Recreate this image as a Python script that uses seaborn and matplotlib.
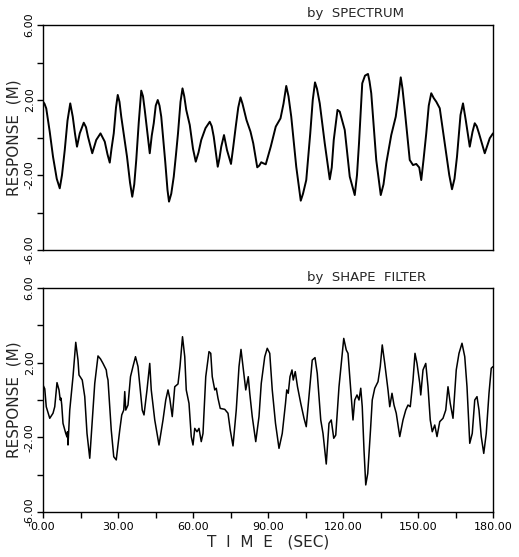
import matplotlib
matplotlib.use("Agg")
import matplotlib.pyplot as plt
import seaborn as sns
import pandas as pd

# ---- data ----
spec_time = [0, 0.6, 1.3, 2.7, 4, 5.5, 6.7, 7.6, 8.7, 9.8, 10.9, 11.9, 12.8, 13.6, 14.7, 16.3, 17.2, 18, 19.7,
             21.3, 23, 24.7, 25.8, 26.7, 27.4, 28.3, 29.2, 29.9, 30.6, 31.3, 32.5, 33.6, 34.8, 35.7, 36.5, 37.3,
             38.3, 39.3, 40, 40.7, 41.8, 42.7, 43.5, 44.3, 45.1, 45.9, 46.6, 47.3, 48.9, 49.8, 50.4, 51.3, 52.3,
             53.2, 54, 55, 55.8, 56.5, 57.3, 58.7, 60, 61.1, 62.2, 63.3, 65, 66.7, 67.5, 68.3, 69.9, 70.6, 71.3,
             72.4, 73.6, 75.2, 76.1, 77.1, 78.1, 79, 79.8, 81.4, 83, 84.1, 85.7, 86.5, 87.3, 88.2, 89.1, 91.1,
             93.1, 95, 96.2, 97.3, 98.2, 99.3, 101.3, 103.1, 104, 105.3, 106.9, 107.9, 108.8, 109.6, 110.7,
             112.7, 114.7, 115.5, 116.3, 117.8, 118.7, 120.7, 122.7, 124.7, 125.6, 126.4, 127.7, 128.8, 130,
             130.6, 131.3, 133.3, 135.1, 136.2, 137.3, 139.3, 141.1, 142.2, 143.1, 143.8, 144.7, 146.7, 148,
             149.3, 150.5, 151.3, 152.2, 153.3, 154.3, 155.3, 156.3, 157.3, 158.7, 161.1, 162.5, 163.6, 164.6,
             165.6, 167, 168, 169.1, 170.7, 171.8, 172.7, 173.5, 174.4, 176.7, 178.7, 180]
spec_resp = [1.91, 1.8, 1.55, 0.3, -1.02, -2.2, -2.71, -2.0, -0.67, 0.9, 1.82, 1.11, 0.2, -0.49, 0.22, 0.79, 0.55,
             0.04, -0.84, -0.13, 0.22, -0.22, -0.9, -1.34, -0.6, 0.22, 1.6, 2.27, 1.9, 1.11, 0.0, -1.02, -2.4,
             -3.16, -2.5, -1.2, 0.8, 2.5, 2.2, 1.47, 0.2, -0.84, 0.1, 0.76, 1.7, 2.0, 1.7, 1.11, -1.3, -2.8, -3.42,
             -3.0, -2.09, -0.9, 0.22, 1.9, 2.62, 2.2, 1.47, 0.67, -0.6, -1.29, -0.8, -0.13, 0.5, 0.84, 0.6, 0.04,
             -1.56, -1.1, -0.49, 0.13, -0.67, -1.41, -0.5, 0.58, 1.6, 2.14, 1.8, 0.93, 0.31, -0.31, -1.59, -1.5,
             -1.32, -1.38, -1.43, -0.49, 0.58, 1.02, 1.8, 2.75, 2.2, 1.11, -1.56, -3.37, -3.0, -2.27, 0.22, 2.0,
             2.94, 2.6, 1.82, -0.31, -2.23, -1.6, -0.13, 1.47, 1.38, 0.4, -2.09, -3.07, -2.0, -0.31, 2.89, 3.3,
             3.39, 3.0, 2.36, -1.2, -3.07, -2.5, -1.38, 0.13, 1.11, 2.2, 3.21, 2.6, 1.47, -1.2, -1.47, -1.41,
             -1.6, -2.27, -1.2, 0.22, 1.7, 2.36, 2.1, 1.91, 1.56, -0.67, -2.0, -2.76, -2.2, -1.02, 1.2, 1.82,
             0.93, -0.49, 0.3, 0.76, 0.6, 0.22, -0.84, -0.04, 0.22]

filt_time = [0, 0.7, 1.3, 2.7, 4, 4.7, 5.6, 6.4, 6.9, 7.2, 7.5, 8, 9.1, 9.6, 9.8, 10, 10.7, 12, 13.1, 14, 14.4,
             15.7, 16.7, 17.6, 18.7, 19.7, 20.7, 22, 23, 24, 24.6, 25.3, 25.6, 26, 27.3, 28.3, 29.3, 30.7, 31.5,
             32.3, 32.7, 33.1, 34, 35, 36, 37, 38, 39.7, 40.4, 41.6, 42.7, 43.3, 44.7, 46.4, 48, 49.1, 50, 50.7,
             51.7, 52.7, 54, 54.8, 55.8, 56.7, 57.3, 58.4, 59.3, 60, 60.7, 61.6, 62.4, 63.3, 64, 65.1, 66.4,
             67.1, 67.7, 68.7, 69.3, 70, 70.9, 72.7, 74, 74.9, 76, 77.3, 78.4, 79.2, 80, 81.1, 82.1, 82.7, 83.7,
             85.1, 86.4, 87.3, 88.7, 89.7, 90.7, 91.7, 93, 94.4, 95.7, 97, 97.5, 98.1, 98.8, 99.6, 100.1, 100.9,
             101.8, 103.1, 104.4, 105.3, 106.4, 107.7, 108.8, 109.7, 111.1, 112, 113.3, 114.4, 115.3, 116.3,
             117.1, 118.4, 119.7, 120.3, 121.3, 122, 123, 124, 124.7, 125.6, 126.4, 127.1, 127.7, 128.4, 129.1,
             129.9, 131, 131.7, 132.7, 134, 134.9, 135.7, 136.7, 138, 138.7, 139.6, 140.4, 141.3, 142.7, 144,
             145.1, 146, 146.9, 148, 148.8, 149.6, 150.7, 151.1, 152, 153.1, 154, 154.9, 155.7, 156.7, 157.6,
             158.7, 160, 161.1, 162, 162.9, 164, 165.3, 166.4, 167.6, 168.7, 169.6, 170.7, 171.7, 172.7, 173.6,
             174.4, 175.3, 176.3, 177.3, 178.4, 179.3, 180]
filt_resp = [0.8, 0.6, -0.36, -0.98, -0.71, -0.36, 0.93, 0.54, 0, 0.1, -0.27, -1.25, -1.79, -1.98, -1.7, -2.41,
             -0.54, 1.25, 3.09, 2.14, 1.34, 1.07, 0.18, -1.79, -3.12, -1.07, 0.89, 2.36, 2.2, 1.96, 1.8, 1.61,
             1.3, 1.07, -1.61, -3.04, -3.21, -1.61, -0.8, -0.54, 0.45, -0.54, -0.27, 1.25, 1.8, 2.32, 1.79, -0.54,
             -0.8, 0.54, 1.96, 0.54, -1.07, -2.41, -1.07, 0, 0.54, 0.09, -0.89, 0.71, 0.86, 1.8, 3.39, 2.32,
             0.54, -0.18, -1.96, -2.41, -1.52, -1.7, -1.52, -2.23, -1.79, 1.25, 2.59, 2.5, 1.25, 0.54, 0.63,
             0.09, -0.45, -0.5, -0.71, -1.61, -2.46, -0.54, 1.79, 2.71, 1.79, 0.54, 1.25, 0.36, -0.89, -2.23,
             -0.89, 0.89, 2.32, 2.77, 2.5, 0.54, -1.25, -2.59, -1.79, -0.18, 0.54, 0.36, 1.25, 1.61, 1.07, 1.52,
             0.71, -0.18, -0.98, -1.43, 0.18, 2.14, 2.27, 1.43, -1.07, -1.79, -3.43, -1.25, -1.07, -2.05, -1.88,
             0.71, 2.5, 3.3, 2.68, 2.5, 0.71, -1.07, 0, 0.27, 0, 0.63, -0.36, -2.68, -4.55, -3.93, -1.61, 0,
             0.63, 0.98, 1.79, 2.95, 1.96, 0.54, -0.36, 0.36, -0.27, -0.71, -1.96, -1.07, -0.54, -0.27, -0.36,
             1.07, 2.5, 1.96, 0.89, 0.27, 1.61, 1.96, 0.71, -1.07, -1.7, -1.34, -1.96, -1.16, -0.98, -0.54,
             0.71, -0.18, -0.98, 1.61, 2.5, 3.04, 2.32, 0.71, -2.32, -1.79, 0, 0.18, -0.54, -1.96, -2.86, -1.79,
             0.36, 1.7, 1.79]

y_ticks = [-6, -4, -2, 0, 2, 4, 6]
y_labels = ["-6.00", "", "-2.00", "", "2.00", "", "6.00"]
x_ticks = [0, 15, 30, 45, 60, 75, 90, 105, 120, 135, 150, 165, 180]
x_labels = ["0.00", "", "30.00", "", "60.00", "", "90.00", "", "120.00", "", "150.00", "", "180.00"]
titles = ["by  SPECTRUM", "by  SHAPE  FILTER"]

sns.set_style("ticks")
plt.rcParams["font.family"] = ["DejaVu Sans"]

fig = plt.figure(figsize=(5.19, 5.57), dpi=100)
ax1 = fig.add_axes([43 / 519, 1 - 250 / 557, 450 / 519, 225 / 557])
ax2 = fig.add_axes([43 / 519, 1 - 512 / 557, 450 / 519, 224 / 557])

df1 = pd.DataFrame({"t": spec_time, "r": spec_resp})
df2 = pd.DataFrame({"t": filt_time, "r": filt_resp})
sns.lineplot(data=df1, x="t", y="r", ax=ax1, color="black", lw=1.4, estimator=None, sort=False)
sns.lineplot(data=df2, x="t", y="r", ax=ax2, color="black", lw=1.1, estimator=None, sort=False)

for ax, title in zip([ax1, ax2], titles):
    ax.set_xlim(0, 180)
    ax.set_ylim(-6, 6)
    ax.set_yticks(y_ticks)
    ax.set_yticklabels(y_labels, rotation=90, va="center", fontsize=8)
    ax.set_ylabel("RESPONSE  (M)", fontsize=11, labelpad=2)
    for s in ax.spines.values():
        s.set_visible(True)
        s.set_linewidth(1.0)
        s.set_color("black")
    ax.tick_params(axis="y", direction="out", length=4, width=1, pad=2, colors="black")
    ax.text(0.586, 1.02, title, transform=ax.transAxes, fontsize=9.5, ha="left", va="bottom")

ax1.set_xticks([])
ax1.set_xlabel("")
ax2.set_xticks(x_ticks)
ax2.set_xticklabels(x_labels, fontsize=8)
ax2.tick_params(axis="x", direction="out", length=4, width=1, pad=3, colors="black")
ax2.set_xlabel("T  I  M  E   (SEC)", fontsize=11, labelpad=2)

fig.savefig("out.png", dpi=100)
